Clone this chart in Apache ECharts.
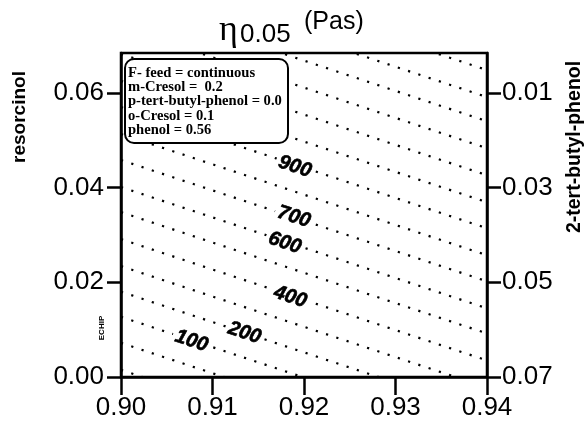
<!DOCTYPE html>
<html><head><meta charset="utf-8">
<script src="https://cdn.jsdelivr.net/npm/echarts@6/dist/echarts.min.js"></script>
<style>html,body{margin:0;padding:0;background:#fff}#c{width:585px;height:423px}</style>
</head><body><div id="c"></div>
<script>
// ---- data ----
const xTicks = [0.90, 0.91, 0.92, 0.93, 0.94];
const resorcinolTicks = [0.00, 0.02, 0.04, 0.06];
const butylTicks = [0.01, 0.03, 0.05, 0.07];
const contourLevels = [-100, 0, 100, 200, 300, 400, 500, 600, 700, 800, 900, 1000, 1100, 1200, 1300, 1400, 1500];
const resorcinolAt090 = [0.0015, 0.0072, 0.0127, 0.0180, 0.0234, 0.0291, 0.0348, 0.0401, 0.0458, 0.0513, 0.0570, 0.0625, 0.0682, 0.0739, 0.0796, 0.0847, 0.0904];
const resorcinolAt094 = [-0.0241, -0.0184, -0.0129, -0.0076, -0.0022, 0.0035, 0.0092, 0.0145, 0.0202, 0.0257, 0.0314, 0.0369, 0.0426, 0.0483, 0.0540, 0.0591, 0.0648];
const labelLevels = [100, 200, 400, 600, 700, 900];
const labelX = [0.9077, 0.9135, 0.9185, 0.9179, 0.9189, 0.9190];
const labelY = [0.0076, 0.0093, 0.0169, 0.0283, 0.0338, 0.0444];
const legendLines = ['F- feed = continuous', 'm-Cresol =  0.2', 'p-tert-butyl-phenol = 0.0', 'o-Cresol = 0.1', 'phenol = 0.56'];
const xRange = [0.90, 0.94];
const yRange = [0, 0.0684];
const totalSum = 0.07;

const chart = echarts.init(document.getElementById('c'), null, {renderer: 'canvas'});
const tickFont = "'Liberation Sans', Arial, sans-serif";

const series = contourLevels.map((lv, i) => ({
  type: 'line', name: 'c' + lv, xAxisIndex: 0, yAxisIndex: 0,
  data: [[xRange[0], resorcinolAt090[i]], [xRange[1], resorcinolAt094[i]]],
  showSymbol: false, symbol: 'none', clip: true, silent: true,
  lineStyle: {color: '#000', width: 2.2, type: [2.2, 8.6], cap: 'butt'},
  z: 2
}));
series.push({
  type: 'scatter', xAxisIndex: 0, yAxisIndex: 0, symbolSize: 0, silent: true, z: 5,
  data: labelLevels.map((lv, i) => [labelX[i], labelY[i], lv]),
  label: {
    show: true, position: 'inside', rotate: -18,
    formatter: p => String(p.value[2]),
    fontFamily: 'Liberation Sans, Arial, sans-serif', fontWeight: 'bold', fontStyle: 'italic',
    fontSize: 20, color: '#000', opacity: 1, textBorderColor: '#000', textBorderWidth: 0.6,
    backgroundColor: '#fff', padding: [0, 3]
  }
});

const axisCommon = {
  axisLine: {show: true, lineStyle: {color: '#000', width: 2.5}},
  axisTick: {show: true, length: 14, lineStyle: {color: '#000', width: 2.5}},
  splitLine: {show: false},
};

const graphics = [
  {type: 'rect', z: 100, shape: {x: 125, y: 59, width: 163, height: 84, r: 9},
   style: {fill: '#fff', stroke: '#000', lineWidth: 2}},
  {type: 'text', z: 100, left: 219, top: 13,
   style: {text: 'η', font: '36px "Liberation Serif", serif', fill: '#000'}},
  {type: 'text', z: 100, x: 240, y: 48,
   style: {text: '0.05', font: '26px "Liberation Sans", Arial, sans-serif', fill: '#000', verticalAlign: 'bottom'}},
  {type: 'text', z: 100, x: 304, y: 22,
   style: {text: '(Pas)', font: '25px "Liberation Sans", Arial, sans-serif', fill: '#000', verticalAlign: 'middle'}},
  {type: 'text', z: 100, x: 20, y: 117, rotation: Math.PI / 2,
   style: {text: 'resorcinol', font: 'bold 19px "Liberation Sans", Arial, sans-serif', fill: '#000', align: 'center', verticalAlign: 'middle'}},
  {type: 'text', z: 100, x: 575, y: 147, rotation: Math.PI / 2,
   style: {text: '2-tert-butyl-phenol', font: 'bold 19.5px "Liberation Sans", Arial, sans-serif', fill: '#000', align: 'center', verticalAlign: 'middle'}},
  {type: 'text', z: 100, x: 102, y: 328, rotation: Math.PI / 2,
   style: {text: 'ECHIP', font: 'bold 8px "Liberation Sans", Arial, sans-serif', fill: '#000', align: 'center', verticalAlign: 'middle'}}
];
legendLines.forEach((t, i) => graphics.push({
  type: 'text', z: 101, x: 128, y: 73 + i * 14.3,
  style: {text: t, font: 'bold 14.6px "Liberation Serif", "Times New Roman", serif', fill: '#000', verticalAlign: 'middle'}
}));

chart.setOption({
  animation: false,
  backgroundColor: '#fff',
  grid: {left: 121, top: 53, right: 98, bottom: 46, show: true, borderColor: '#000', borderWidth: 2.5, backgroundColor: 'transparent'},
  xAxis: [Object.assign({}, axisCommon, {
    type: 'value', min: xRange[0], max: xRange[1], interval: 0.01, position: 'bottom',
    axisTick: {show: true, length: 18, customValues: xTicks, lineStyle: {color: '#000', width: 2.5}},
    axisLabel: {customValues: xTicks, formatter: v => v.toFixed(2), fontFamily: tickFont, fontSize: 26, color: '#000', margin: 18}
  })],
  yAxis: [
    Object.assign({}, axisCommon, {
      type: 'value', min: yRange[0], max: yRange[1], position: 'left',
      axisTick: {show: true, length: 14, customValues: resorcinolTicks, lineStyle: {color: '#000', width: 2.5}},
      axisLabel: {customValues: resorcinolTicks, formatter: v => v.toFixed(2), fontFamily: tickFont, fontSize: 26, color: '#000', margin: 17}
    }),
    Object.assign({}, axisCommon, {
      type: 'value', inverse: true, min: +(totalSum - yRange[1]).toFixed(4), max: totalSum, position: 'right',
      axisTick: {show: true, length: 14, customValues: butylTicks, lineStyle: {color: '#000', width: 2.5}},
      axisLabel: {customValues: butylTicks, formatter: v => v.toFixed(2), fontFamily: tickFont, fontSize: 26, color: '#000', margin: 15}
    })
  ],
  series: series,
  graphic: graphics
});
</script></body></html>
